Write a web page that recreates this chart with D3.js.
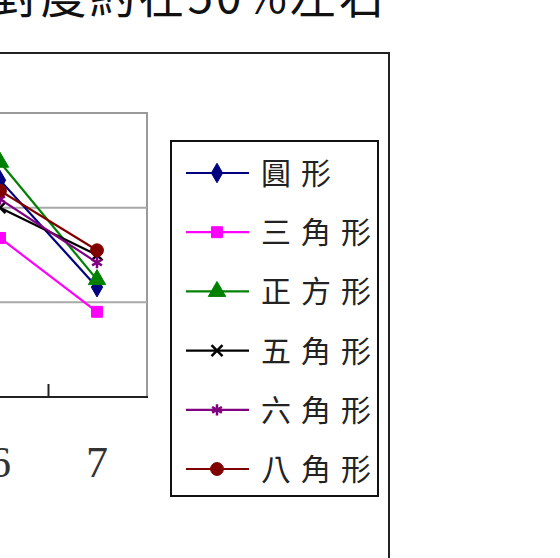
<!DOCTYPE html>
<html>
<head>
<meta charset="utf-8">
<script src="https://cdn.jsdelivr.net/npm/d3@7"></script>
<style>
  html, body { margin: 0; padding: 0; background: #fff; }
  svg { display: block; }
</style>
</head>
<body>
<svg id="chart" width="560" height="558"></svg>
<script>
// Categories along the x axis and tick labels
const categories = ["6", "7"];
const tickLabels = ["6", "7"];

// Series values (%), one array per shape
const seriesNames = ["圓形", "三角形", "正方形", "五角形", "六角形", "八角形"];
const circleVals   = [45.8, 23.2];
const triangleVals = [33.6, 18.0];
const squareVals   = [49.6, 24.8];
const pentagonVals = [40.0, 30.0];
const hexagonVals  = [41.8, 28.4];
const octagonVals  = [43.6, 31.0];

const titleText = "答對度約在50%左右";

const seriesValues = [circleVals, triangleVals, squareVals, pentagonVals, hexagonVals, octagonVals];
const seriesColors = ["#000080", "#ff00ff", "#008000", "#000000", "#800080", "#800000"];
const seriesSymbols = [d3.symbolDiamond, d3.symbolSquare, d3.symbolTriangle, d3.symbolTimes, d3.symbolAsterisk, d3.symbolCircle];
const symbolSizes = [110, 120, 130, 80, 90, 130];
const strokeSymbol = [false, false, false, true, true, false];

const svg = d3.select("#chart");

// Plot geometry
const plotTop = 113, plotBottom = 397, plotRight = 147;

const x = d3.scaleBand().domain(categories).range([-48.5, 145.5]).padding(0);
const y = d3.scaleLinear().domain([0, 60]).range([plotBottom, plotTop]);
const cx = c => x(c) + x.bandwidth() / 2;

// Outer chart frame
svg.append("rect")
  .attr("x", -200).attr("y", 53)
  .attr("width", 389 + 200).attr("height", 800)
  .attr("fill", "#fff").attr("stroke", "#222").attr("stroke-width", 2);

// Title
svg.append("text")
  .attr("x", 388).attr("y", 13)
  .attr("text-anchor", "end")
  .attr("font-family", "'Noto Sans CJK TC', sans-serif")
  .attr("font-size", 46)
  .attr("letter-spacing", 3)
  .attr("fill", "#111")
  .text(titleText);

// Plot area frame (top and right)
svg.append("path")
  .attr("d", `M-200,${y(60)}H${plotRight}V${plotBottom}`)
  .attr("fill", "none").attr("stroke", "#9a9a9a").attr("stroke-width", 2);

// Horizontal gridlines
svg.append("g")
  .selectAll("line")
  .data(y.ticks(3).filter(t => t > 0 && t < 60))
  .join("line")
  .attr("x1", -200).attr("x2", plotRight)
  .attr("y1", d => y(d)).attr("y2", d => y(d))
  .attr("stroke", "#a8a8a8").attr("stroke-width", 2);

// X axis: labels centred on categories, tick marks at category boundaries
const xAxis = d3.axisBottom(x).tickSize(0).tickPadding(0).tickFormat((d, i) => tickLabels[i]);
const gx = svg.append("g").attr("transform", `translate(0,${plotBottom})`).call(xAxis);
gx.select(".domain").remove();
gx.selectAll("text")
  .attr("y", 80).attr("dy", 0)
  .attr("font-family", "'Liberation Serif', 'Times New Roman', serif")
  .attr("font-size", 44)
  .attr("fill", "#333");
svg.append("line")
  .attr("x1", -200).attr("x2", plotRight + 1)
  .attr("y1", plotBottom).attr("y2", plotBottom)
  .attr("stroke", "#222").attr("stroke-width", 2);
svg.append("g")
  .selectAll("line")
  .data(categories.slice(1))
  .join("line")
  .attr("x1", d => x(d)).attr("x2", d => x(d))
  .attr("y1", plotBottom).attr("y2", plotBottom - 13)
  .attr("stroke", "#222").attr("stroke-width", 2);

// Series lines and markers
const line = d3.line().x(d => cx(d.c)).y(d => y(d.v));
seriesValues.forEach((vals, i) => {
  const pts = vals.map((v, j) => ({ c: categories[j], v }));
  const g = svg.append("g");
  g.append("path")
    .attr("d", line(pts))
    .attr("fill", "none").attr("stroke", seriesColors[i]).attr("stroke-width", 2.2);
  const sym = d3.symbol().type(seriesSymbols[i]).size(symbolSizes[i]);
  g.selectAll("path.m")
    .data(pts)
    .join("path")
    .attr("class", "m")
    .attr("transform", d => `translate(${cx(d.c)},${y(d.v)})`)
    .attr("d", sym())
    .attr("fill", strokeSymbol[i] ? "none" : seriesColors[i])
    .attr("stroke", seriesColors[i])
    .attr("stroke-width", strokeSymbol[i] ? 2.5 : 1);
});

// Legend
const legend = svg.append("g");
legend.append("rect")
  .attr("x", 171).attr("y", 141)
  .attr("width", 207).attr("height", 355)
  .attr("fill", "#fff").attr("stroke", "#111").attr("stroke-width", 2);
const ly = d3.scalePoint().domain(seriesNames).range([173, 469]);
seriesNames.forEach((name, i) => {
  const yy = ly(name);
  legend.append("line")
    .attr("x1", 186).attr("x2", 249).attr("y1", yy).attr("y2", yy)
    .attr("stroke", seriesColors[i]).attr("stroke-width", 2.2);
  legend.append("path")
    .attr("transform", `translate(217,${yy})`)
    .attr("d", d3.symbol().type(seriesSymbols[i]).size(symbolSizes[i])())
    .attr("fill", strokeSymbol[i] ? "none" : seriesColors[i])
    .attr("stroke", seriesColors[i])
    .attr("stroke-width", strokeSymbol[i] ? 2.5 : 1);
  legend.append("text")
    .attr("x", 261).attr("y", yy + 11)
    .attr("font-family", "'Noto Sans CJK TC', sans-serif")
    .attr("font-size", 30)
    .attr("letter-spacing", 10)
    .attr("fill", "#222")
    .text(name);
});
</script>
</body>
</html>
